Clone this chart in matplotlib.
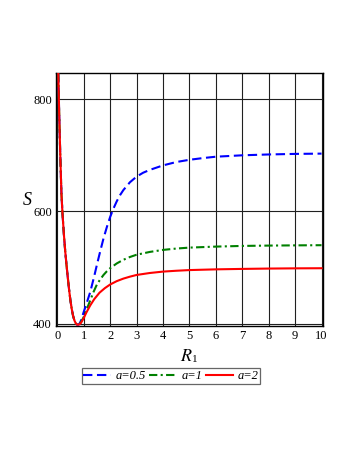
import matplotlib
matplotlib.use("Agg")
import matplotlib.pyplot as plt

# Shared left branch (all curves coincide)
x_left = [0.04, 0.07, 0.10, 0.13, 0.16, 0.20, 0.25, 0.30, 0.35, 0.40, 0.45,
          0.50, 0.55, 0.60, 0.65, 0.70, 0.75, 0.80]
s_left = [846, 780, 725, 675, 630, 595, 560, 530, 505, 482, 460,
          441, 426, 414, 406, 401, 398.5, 398.5]

x_a05 = [0.85, 0.90, 1.0, 1.1, 1.25, 1.4, 1.5, 1.625, 1.75, 1.875, 2.0, 2.125, 2.25,
         2.375, 2.5, 2.75, 3.0, 3.25, 3.5, 4.0, 4.5, 5.0, 5.5, 6.0, 7.0, 8.0, 9.0, 10.0]
s_a05 = [401, 406, 421, 435, 457, 485, 505, 529, 552, 572, 590, 605, 618,
         629, 638, 652, 662, 669, 674, 682, 688, 692, 695, 697.5, 700, 701.5, 702.5, 703]

x_a1 = [0.85, 0.90, 1.0, 1.1, 1.25, 1.375, 1.5, 1.625, 1.75, 1.875, 2.0, 2.25, 2.5,
        2.75, 3.0, 3.5, 4.0, 4.5, 5.0, 6.0, 7.0, 8.0, 9.0, 10.0]
s_a1 = [400, 403, 412, 424, 442, 457, 470, 479, 487, 493.5, 499, 507.5, 514,
        519, 523, 528, 531.6, 534, 535.7, 537.5, 538.7, 539.3, 539.7, 540]

x_a2 = [0.85, 0.90, 1.0, 1.1, 1.25, 1.4, 1.6, 1.8, 2.0, 2.25, 2.5, 2.75,
        3.0, 3.5, 4.0, 4.5, 5.0, 6.0, 7.0, 8.0, 9.0, 10.0]
s_a2 = [399.5, 402, 410, 420, 433, 444, 455.5, 463.5, 470, 476, 480.5, 484,
        487, 490.5, 493, 494.5, 495.7, 497, 497.8, 498.4, 498.8, 499]

labels = ["a=0.5", "a=1", "a=2"]
xticks = list(range(0, 11))
yticks = [400, 600, 800]

plt.rcParams['font.family'] = ['Liberation Serif', 'DejaVu Serif']
plt.rcParams['mathtext.fontset'] = 'stix'

fig = plt.figure(figsize=(3.54, 4.58), dpi=100)
ax = fig.add_axes([0.158, 0.288, 0.754, 0.552])

l1, = ax.plot(x_left + x_a05, s_left + s_a05, color='#0000ff', lw=1.5,
              ls=(0, (4.5, 2.2)), zorder=3)
l2, = ax.plot(x_left + x_a1, s_left + s_a1, color='#008000', lw=1.5,
              ls=(0, (4, 1.6, 1, 1.6)), zorder=3)
l3, = ax.plot(x_left + x_a2, s_left + s_a2, color='#ff0000', lw=1.5, ls='-', zorder=4)

ax.set_xlim(-0.05, 10.05)
ax.set_ylim(396, 846)
ax.set_xticks(xticks)
ax.set_xticklabels([str(t) for t in xticks], fontsize=9)
ax.set_yticks(yticks)
ax.set_yticklabels([str(t) for t in yticks], fontsize=9)
ax.tick_params(length=0, pad=3)
ax.grid(True, color='#202020', lw=0.8)
ax.set_axisbelow(True)
for sp in ax.spines.values():
    sp.set_color('black')
    sp.set_linewidth(1.0)

fig.text(0.076, 0.563, 'S', fontsize=13, style='italic', ha='center', va='center')
fig.text(0.527, 0.222, r'$R$', fontsize=13, ha='center', va='center')
fig.text(0.549, 0.216, '1', fontsize=8, ha='center', va='center')

leg = fig.legend([l1, l2, l3], labels, loc='center', bbox_to_anchor=(0.483, 0.179),
                 ncol=3, frameon=True, fancybox=False, fontsize=9,
                 handlelength=2.2, handletextpad=0.35, columnspacing=0.3,
                 borderpad=0.15, borderaxespad=0)
leg.get_frame().set_edgecolor('#404040')
leg.get_frame().set_linewidth(0.9)
for t in leg.get_texts():
    t.set_fontstyle('italic')

fig.savefig('out.png', dpi=100)
